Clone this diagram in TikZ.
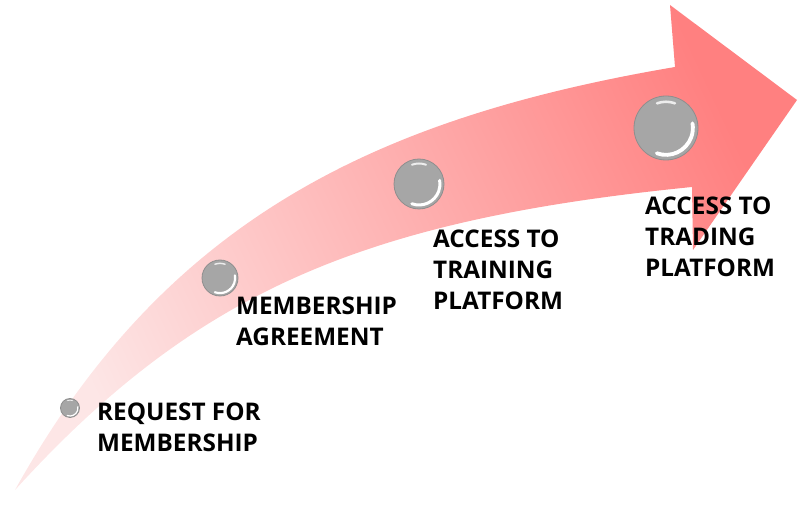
\documentclass[tikz,border=0pt]{standalone}
\usepackage{fontspec}
\setmainfont{Open Sans}
\usetikzlibrary{
  positioning,  % Function "of"
  calc,         % Calculations $...$
}
\definecolor{tailpink}{HTML}{FDE6E6}
\definecolor{headpink}{HTML}{FF8080}
\definecolor{beadgray}{HTML}{A6A6A6}
\definecolor{beadrim}{HTML}{8E8E8E}
\def\mylinesep{31pt}
\tikzset{
  x=1pt,
  y=1pt,
  my label/.style={
    anchor=north west,
    inner sep=0pt,
    align=left,
    font=\fontsize{24.3}{\mylinesep}\selectfont\bfseries
  },
  my bead/.style={
    circle,
    draw=beadrim,
    fill=beadgray,
    line width=0.8pt,
    inner sep=0pt
  },
  glint/.style={
    white,
    line cap=round
  },
  my arrow/.style={
    left color=tailpink,
    right color=headpink,
    shading angle=115
  }
}
% Bead: name, centre, radius
\newcommand{\bead}[3]{
  \node[my bead,minimum size=2pt*#3] (#1) at (#2) {};
  \draw[glint,line width=0.12pt*#3]
    (#1.center) ++(-110:0.84*#3) arc[start angle=-110,end angle=10,radius=0.84*#3];
  \draw[glint,line width=0.08pt*#3,opacity=0.8]
    (#1.center) ++(70:0.82*#3) arc[start angle=70,end angle=110,radius=0.82*#3];
}

\begin{document}
\begin{tikzpicture}
\useasboundingbox (0,0) rectangle (812,516);
% Arrow
\shade[my arrow]
  (15,26) .. controls (165,296) and (375,398) .. (675,449)
  -- (670,511) -- (797,416) -- (693,266) -- (692,329)
  .. controls (362,296) and (195,224) .. (15,26) -- cycle;
% Beads
\bead{b1}{70,108}{9.5}
\bead{b2}{220,238}{18}
\bead{b3}{419,332}{25}
\bead{b4}{666,388}{32}
% Labels
\node[my label] (request)   at (97,113.5)  {REQUEST FOR\\MEMBERSHIP};
\node[my label] (agreement) at (236,219.5) {MEMBERSHIP\\AGREEMENT};
\node[my label] (training)  at (433,286.5) {ACCESS TO\\TRAINING\\PLATFORM};
\node[my label] (trading)   at (645,319.5) {ACCESS TO\\TRADING\\PLATFORM};
\end{tikzpicture}
\end{document}
